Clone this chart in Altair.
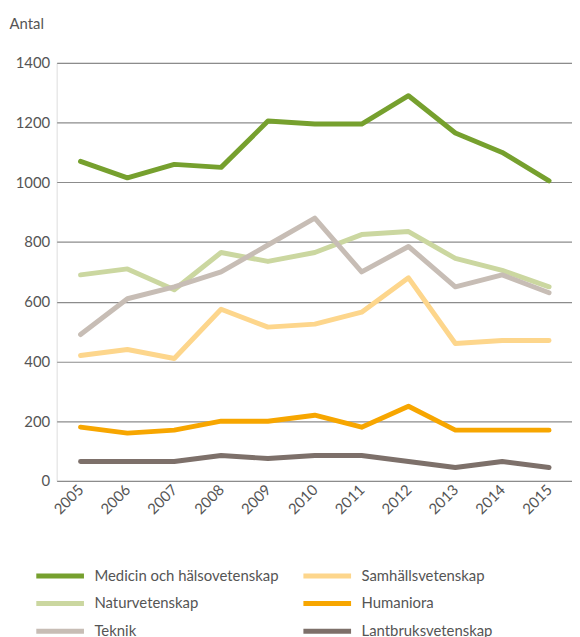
import altair as alt
import pandas as pd

years = list(range(2005, 2016))
medicin = [1070, 1015, 1060, 1050, 1205, 1195, 1195, 1290, 1165, 1100, 1005]
natur = [690, 710, 640, 765, 735, 765, 825, 835, 745, 705, 650]
teknik = [490, 610, 650, 700, 790, 880, 700, 785, 650, 690, 630]
samhall = [420, 440, 410, 575, 515, 525, 565, 680, 460, 470, 470]
human = [180, 160, 170, 200, 200, 220, 180, 250, 170, 170, 170]
lantbruk = [65, 65, 65, 85, 75, 85, 85, 65, 45, 65, 45]

series = {
    "Medicin och hälsovetenskap": medicin,
    "Naturvetenskap": natur,
    "Teknik": teknik,
    "Samhällsvetenskap": samhall,
    "Humaniora": human,
    "Lantbruksvetenskap": lantbruk,
}
colors = ["#76a02e", "#cbd7a0", "#c7bdb5", "#fdd68c", "#f7a600", "#7d706a"]
order = list(series.keys())

rows = []
for name, vals in series.items():
    for y, v in zip(years, vals):
        rows.append({"År": y, "Antal": v, "Område": name})
df = pd.DataFrame(rows)

FONT = "Lato"
TXT = "#555555"

chart = alt.Chart(df).mark_line(strokeWidth=5, strokeCap="round", strokeJoin="round").encode(
    x=alt.X("År:Q",
            scale=alt.Scale(domain=[2004.49, 2015.49], nice=False, zero=False),
            axis=alt.Axis(values=years, format="d", labelAngle=-45, labelAlign="right",
                          labelBaseline="middle", labelPadding=6, ticks=False, domain=False,
                          grid=False, title=None, labelFontSize=15, labelColor=TXT,
                          labelFont=FONT, labelOverlap=False)),
    y=alt.Y("Antal:Q",
            scale=alt.Scale(domain=[0, 1400], nice=False),
            axis=alt.Axis(values=list(range(0, 1401, 200)), format="d", ticks=False, domain=False,
                          grid=True, gridColor="#8c8c8c", gridWidth=1.2,
                          labelFontSize=15, labelColor=TXT, labelFont=FONT, labelPadding=7,
                          title="Antal", titleAngle=0, titleAlign="left", titleBaseline="middle",
                          titleX=-48, titleY=-40, titleFont=FONT, titleFontSize=15,
                          titleFontWeight="normal", titleColor=TXT)),
    color=alt.Color("Område:N",
                    scale=alt.Scale(domain=order, range=colors),
                    sort=order,
                    legend=alt.Legend(title=None, orient="none", legendX=-5, legendY=508,
                                      columns=2, columnPadding=14, rowPadding=7,
                                      symbolType="M-4,0H4", symbolSize=144,
                                      symbolStrokeWidth=5, labelFontSize=15, labelLimit=400,
                                      labelFont=FONT, labelColor=TXT, labelOffset=26)),
    order=alt.Order("ord:Q"),
).transform_calculate(
    ord="indexof(['Lantbruksvetenskap','Humaniora','Samhällsvetenskap','Teknik','Naturvetenskap','Medicin och hälsovetenskap'], datum['Område'])"
).properties(
    width=519, height=421, padding={"left": 1, "top": 6, "right": 0, "bottom": 0}
).configure_view(stroke=None).configure(background="white")

chart.save("out.html", embed_options={"renderer": "svg", "actions": False})
